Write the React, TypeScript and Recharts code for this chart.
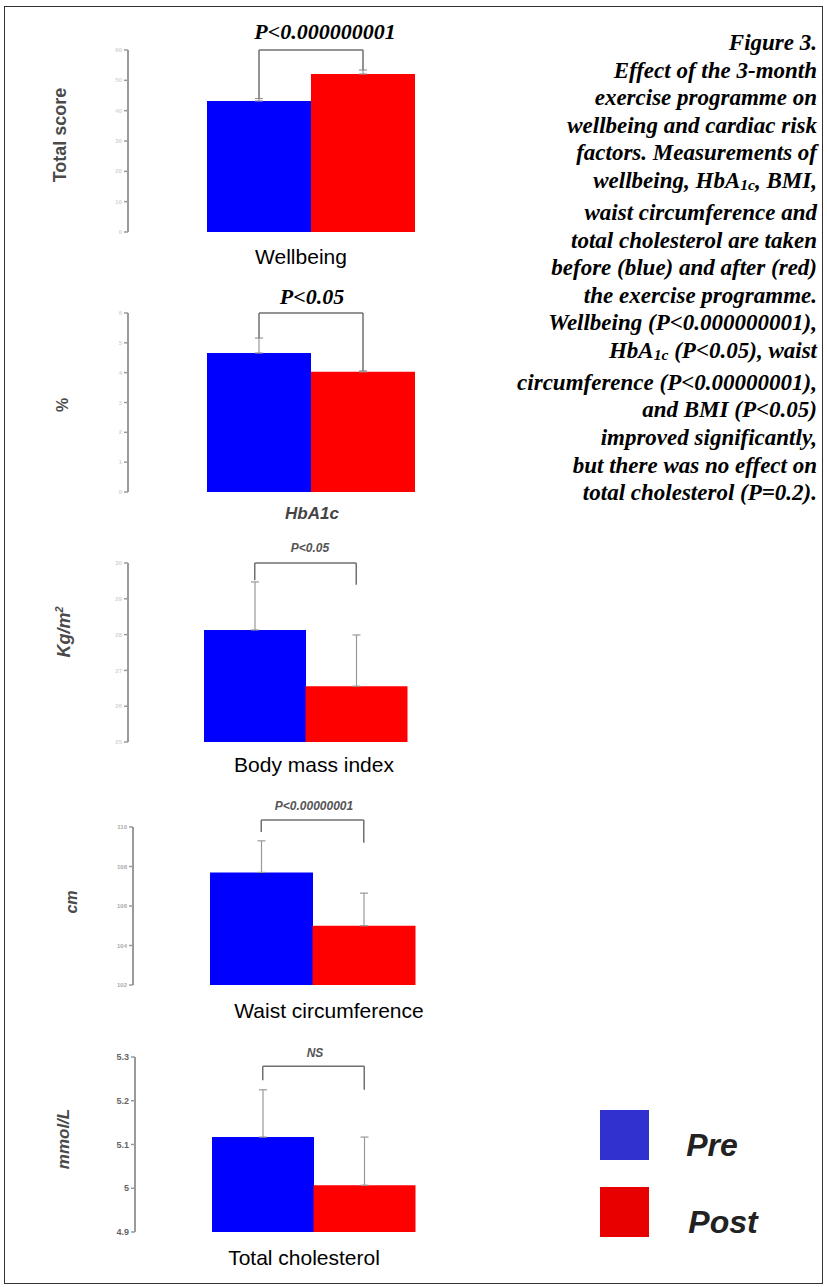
import { BarChart, Bar, Cell, XAxis, YAxis, ErrorBar, ReferenceLine } from 'recharts'

const groups = ['Pre', 'Post']
const barColors = ['#0000ff', '#ff0000']

const wellbeingValues = [43.2, 52.1]
const wellbeingErrors = [0.8, 1.3]
const wellbeingTicks = [0, 10, 20, 30, 40, 50, 60]
const wellbeingBracket = [60, 44.0, 53.4]

const hba1cValues = [4.66, 4.03]
const hba1cErrors = [0.5, 0.03]
const hba1cTicks = [0, 1, 2, 3, 4, 5, 6]
const hba1cBracket = [6, 5.16, 4.06]

const bmiValues = [28.13, 26.56]
const bmiErrors = [1.34, 1.43]
const bmiTicks = [25, 26, 27, 28, 29, 30]
const bmiBracket = [30, 29.52, 29.39]

const waistValues = [107.7, 105.0]
const waistErrors = [1.6, 1.65]
const waistTicks = [102, 104, 106, 108, 110]
const waistBracket = [110.35, 109.75, 109.2]

const cholValues = [5.117, 5.007]
const cholErrors = [0.108, 0.11]
const cholTicks = [4.9, 5, 5.1, 5.2, 5.3]
const cholBracket = [5.279, 5.247, 5.225]

const legendItems = ['Pre', 'Post']
const legendColors = ['#3131d0', '#e80000']

const captionLines = [
  'Figure 3.',
  'Effect of the 3-month',
  'exercise programme on',
  'wellbeing and cardiac risk',
  'factors. Measurements of',
  'wellbeing, HbA1c, BMI,',
  'waist circumference and',
  'total cholesterol are taken',
  'before (blue) and after (red)',
  'the exercise programme.',
  'Wellbeing (P<0.000000001),',
  'HbA1c (P<0.05), waist',
  'circumference (P<0.00000001),',
  'and BMI (P<0.05)',
  'improved significantly,',
  'but there was no effect on',
  'total cholesterol (P=0.2).',
]

const rows = (values: number[], errors: number[]) =>
  groups.map((g, i) => ({ group: g, value: values[i], err: [0, errors[i]] }))

const AXIS_RIGHT = 493
const Y_AXIS_W = 40

interface PanelProps {
  values: number[]
  errors: number[]
  ticks: number[]
  bracket: number[]
  axisX: number
  plotTop: number
  plotBottom: number
  barLeft: number
  barRight: number
  tickFill: string
  tickSize: number
}

function Panel(p: PanelProps) {
  const data = rows(p.values, p.errors)
  const padTop = 30
  const padBottom = 20
  const height = p.plotBottom - p.plotTop + padTop + padBottom
  const width = 520
  const [top, preEnd, postEnd] = p.bracket
  return (
    <div style={{ position: 'absolute', left: 0, top: p.plotTop - padTop }}>
      <BarChart
        width={width}
        height={height}
        data={data}
        barCategoryGap={0}
        barGap={0}
        margin={{ top: padTop, right: width - AXIS_RIGHT, bottom: padBottom, left: p.axisX - Y_AXIS_W }}
      >
        <XAxis
          dataKey="group"
          tick={false}
          tickLine={false}
          height={0}
          axisLine={{ stroke: '#9a9a9a', strokeWidth: 2 }}
          padding={{ left: p.barLeft - p.axisX, right: AXIS_RIGHT - p.barRight }}
        />
        <YAxis
          type="number"
          width={Y_AXIS_W}
          domain={[p.ticks[0], p.ticks[p.ticks.length - 1]]}
          ticks={p.ticks}
          interval={0}
          allowDataOverflow
          tickSize={4}
          tickLine={{ stroke: '#9a9a9a', strokeWidth: 1.5 }}
          axisLine={{ stroke: '#9a9a9a', strokeWidth: 2 }}
          tick={{ fill: p.tickFill, fontSize: p.tickSize, fontWeight: 'bold', fontFamily: 'Liberation Sans, Arial, sans-serif' }}
        />
        <Bar dataKey="value" isAnimationActive={false}>
          {data.map((d, i) => (
            <Cell key={d.group} fill={barColors[i]} />
          ))}
          <ErrorBar dataKey="err" width={4} stroke="#999" strokeWidth={1.2} direction="y" />
        </Bar>
        <ReferenceLine
          segment={[{ x: 'Pre', y: preEnd }, { x: 'Pre', y: top }]}
          stroke="#707070"
          strokeWidth={1.5}
          ifOverflow="visible"
        />
        <ReferenceLine
          segment={[{ x: 'Pre', y: top }, { x: 'Post', y: top }]}
          stroke="#707070"
          strokeWidth={1.5}
          ifOverflow="visible"
        />
        <ReferenceLine
          segment={[{ x: 'Post', y: top }, { x: 'Post', y: postEnd }]}
          stroke="#707070"
          strokeWidth={1.5}
          ifOverflow="visible"
        />
      </BarChart>
    </div>
  )
}

const sans = 'Liberation Sans, Arial, sans-serif'
const serif = 'Liberation Serif, Times New Roman, serif'

function Label({ x, y, text, size, rotate, italic, bold, color, font }: {
  x: number; y: number; text: React.ReactNode; size: number; rotate?: boolean
  italic?: boolean; bold?: boolean; color?: string; font?: string
}) {
  return (
    <div
      style={{
        position: 'absolute',
        left: x,
        top: y,
        transform: `translate(-50%, -50%)${rotate ? ' rotate(-90deg)' : ''}`,
        whiteSpace: 'nowrap',
        fontFamily: font ?? sans,
        fontSize: size,
        fontStyle: italic ? 'italic' : 'normal',
        fontWeight: bold ? 'bold' : 'normal',
        color: color ?? '#000',
        lineHeight: 1,
      }}
    >
      {text}
    </div>
  )
}

function CaptionLine({ text }: { text: string }) {
  const parts = text.split('HbA1c')
  return (
    <div>
      {parts.map((part, i) => (
        <span key={i}>
          {i > 0 && (
            <>
              HbA<sub style={{ fontSize: '0.68em', verticalAlign: '-0.15em' }}>1c</sub>
            </>
          )}
          {part}
        </span>
      ))}
    </div>
  )
}

export default function App() {
  const faint = '#d4d4d4'
  return (
    <div style={{ position: 'absolute', left: 0, top: 0, width: 827, height: 1287, background: '#fff', overflow: 'hidden' }}>
      <div style={{ position: 'absolute', left: 4, top: 6, width: 817, height: 1276, border: '1.5px solid #333' }} />

      <Panel values={wellbeingValues} errors={wellbeingErrors} ticks={wellbeingTicks} bracket={wellbeingBracket}
        axisX={128} plotTop={50} plotBottom={232} barLeft={207} barRight={415} tickFill={faint} tickSize={6} />
      <Panel values={hba1cValues} errors={hba1cErrors} ticks={hba1cTicks} bracket={hba1cBracket}
        axisX={128} plotTop={313} plotBottom={492} barLeft={207} barRight={415} tickFill={faint} tickSize={6} />
      <Panel values={bmiValues} errors={bmiErrors} ticks={bmiTicks} bracket={bmiBracket}
        axisX={128} plotTop={563} plotBottom={742} barLeft={204} barRight={407} tickFill={faint} tickSize={6} />
      <Panel values={waistValues} errors={waistErrors} ticks={waistTicks} bracket={waistBracket}
        axisX={133} plotTop={827} plotBottom={985} barLeft={210} barRight={415} tickFill="#aaa" tickSize={6} />
      <Panel values={cholValues} errors={cholErrors} ticks={cholTicks} bracket={cholBracket}
        axisX={135} plotTop={1057} plotBottom={1232} barLeft={212} barRight={415} tickFill="#666" tickSize={9} />

      <Label x={325} y={32} text="P<0.000000001" size={22} italic bold font={serif} />
      <Label x={312} y={297} text="P<0.05" size={22} italic bold font={serif} />
      <Label x={310} y={548} text="P<0.05" size={12} italic bold color="#555" />
      <Label x={314} y={806} text="P<0.00000001" size={12} italic bold color="#555" />
      <Label x={315} y={1053} text="NS" size={12} italic bold color="#555" />

      <Label x={60} y={135} text="Total score" size={18} rotate bold color="#4a4a4a" />
      <Label x={63} y={405} text="%" size={16} rotate bold color="#4a4a4a" />
      <Label x={63} y={632} text={<>Kg/m<sup style={{ fontSize: '0.6em' }}>2</sup></>} size={18} rotate italic bold color="#4a4a4a" />
      <Label x={72} y={902} text="cm" size={16} rotate italic bold color="#4a4a4a" />
      <Label x={63} y={1139} text="mmol/L" size={17} rotate italic bold color="#4a4a4a" />

      <Label x={301} y={256} text="Wellbeing" size={21} />
      <Label x={312} y={513} text="HbA1c" size={17} italic bold color="#444" />
      <Label x={314} y={764} text="Body mass index" size={21} />
      <Label x={329} y={1010} text="Waist circumference" size={21} />
      <Label x={304} y={1257} text="Total cholesterol" size={21} />

      <div
        style={{
          position: 'absolute',
          right: 827 - 817,
          top: 29,
          textAlign: 'right',
          fontFamily: serif,
          fontStyle: 'italic',
          fontWeight: 'bold',
          fontSize: 23,
          lineHeight: '27.6px',
          color: '#000',
          whiteSpace: 'nowrap',
        }}
      >
        {captionLines.map((line) => (
          <CaptionLine key={line} text={line} />
        ))}
      </div>

      {legendItems.map((item, i) => (
        <div key={item}>
          <div
            style={{
              position: 'absolute',
              left: 600,
              top: 1110 + i * 77,
              width: 49,
              height: 50,
              background: legendColors[i],
            }}
          />
          <Label x={685 + (item === 'Pre' ? 27 : 38)} y={1145 + i * 77} text={item} size={32} italic bold color="#222" />
        </div>
      ))}
    </div>
  )
}
